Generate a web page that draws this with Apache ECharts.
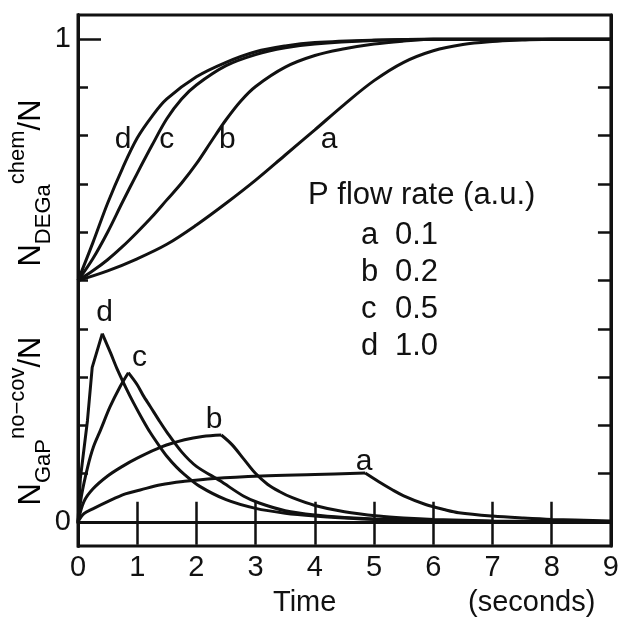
<!DOCTYPE html>
<html>
<head>
<meta charset="utf-8">
<title>P flow rate</title>
<script src="https://cdn.jsdelivr.net/npm/echarts@6/dist/echarts.min.js"></script>
<style>
  html, body { margin: 0; padding: 0; background: #fff; }
  #chart { width: 622px; height: 627px; }
</style>
</head>
<body>
<div id="chart"></div>
<script>
// time axis (seconds)
var xTicks = [0, 1, 2, 3, 4, 5, 6, 7, 8, 9];
// y scale: 0..10 units, 10 = "1"
var yMinorTicks = [1, 2, 3, 4, 5, 6, 7, 8, 9];
var yLabelTicks = [0, 10];
var yLabelText = ['0', '1'];

// upper curves N_DEGa^chem / N
var upperA = [[0,5.0],[0.5,5.2],[1.0,5.45],[1.5,5.75],[2.0,6.15],[2.5,6.6],[3.0,7.08],[3.5,7.6],[4.0,8.12],[4.5,8.65],[5.0,9.14],[5.5,9.52],[6.0,9.76],[6.5,9.89],[7.0,9.95],[7.5,9.98],[8,10],[9,10]];
var upperB = [[0,5.0],[0.25,5.2],[0.5,5.43],[0.75,5.7],[1.0,6.0],[1.25,6.32],[1.5,6.67],[1.75,7.02],[2.0,7.42],[2.25,7.88],[2.5,8.33],[2.75,8.72],[3.0,9.02],[3.5,9.42],[4.0,9.66],[4.5,9.8],[5.0,9.9],[5.5,9.96],[6,10],[9,10]];
var upperC = [[0,5.0],[0.25,5.45],[0.5,6.0],[0.75,6.62],[1.0,7.22],[1.25,7.8],[1.5,8.35],[1.75,8.76],[2.0,9.05],[2.5,9.45],[3.0,9.68],[3.5,9.82],[4.0,9.9],[5,9.97],[6,10],[9,10]];
var upperD = [[0,5.0],[0.25,5.78],[0.5,6.6],[0.75,7.32],[1.0,7.95],[1.25,8.4],[1.5,8.76],[2.0,9.22],[2.5,9.52],[3.0,9.74],[3.5,9.86],[4.0,9.93],[5,9.98],[6,10],[9,10]];

// lower curves N_GaP^no-cov / N (rise while P flows, decay after)
var lowerARise = [[0,0],[0.1,0.17],[0.25,0.27],[0.5,0.42],[0.8,0.58],[1.05,0.66],[1.4,0.77],[1.8,0.84],[2.3,0.9],[3.1,0.95],[4.0,0.98],[4.85,1.01]];
var lowerAFall = [[4.85,1.01],[5.08,0.83],[5.3,0.67],[5.5,0.54],[5.87,0.36],[6.2,0.25],[6.43,0.19],[7.0,0.12],[7.5,0.08],[8,0.05],[9,0.02]];
var lowerBRise = [[0,0],[0.1,0.42],[0.25,0.68],[0.5,0.95],[0.75,1.15],[1.0,1.32],[1.4,1.55],[1.8,1.7],[2.1,1.77],[2.42,1.8]];
var lowerBFall = [[2.42,1.8],[2.6,1.6],[2.8,1.3],[3.0,1.0],[3.2,0.78],[3.4,0.63],[3.62,0.5],[4.0,0.34],[4.5,0.21],[5.08,0.12],[5.5,0.08],[6,0.05],[7,0.02],[8,0.01],[9,0]];
var lowerCRise = [[0,0],[0.06,0.55],[0.16,1.12],[0.26,1.55],[0.38,1.9],[0.54,2.38],[0.71,2.8],[0.85,3.09]];
var lowerCFall = [[0.85,3.09],[1.0,2.84],[1.1,2.62],[1.22,2.39],[1.38,2.08],[1.5,1.86],[1.75,1.45],[2.0,1.15],[2.4,0.85],[2.8,0.53],[3.06,0.39],[3.5,0.23],[4.0,0.14],[4.5,0.09],[5,0.06],[6,0.03],[7,0.01],[9,0]];
var lowerDRise = [[0,0],[0.04,0.9],[0.16,2.1],[0.24,3.2],[0.41,3.9]];
var lowerDFall = [[0.41,3.9],[0.55,3.5],[0.66,3.17],[0.82,2.75],[0.94,2.46],[1.1,2.1],[1.22,1.85],[1.38,1.56],[1.5,1.36],[1.66,1.14],[1.8,0.98],[2.05,0.74],[2.5,0.46],[3.0,0.28],[3.5,0.18],[4.0,0.12],[4.5,0.08],[5,0.05],[6,0.02],[7,0.01],[9,0]];

// curve letters
var curveNames = ['d', 'c', 'b', 'a'];
var upperLabelPos = [[0.76,7.91],[1.5,7.91],[2.52,7.91],[4.24,7.91]];
var lowerLabelPos = [[0.45,4.33],[1.04,3.4],[2.3,2.11],[4.83,1.24]];

// legend
var legendTitle = 'P flow rate (a.u.)';
var flowRates = ['0.1', '0.2', '0.5', '1.0'];
var legendKeys = ['a', 'b', 'c', 'd'];

var FONT = 'Liberation Sans, Arial, Helvetica, sans-serif';
var INK = '#111';

var chart = echarts.init(document.getElementById('chart'));

function curve(data, smooth) {
    return {
        type: 'line',
        data: data,
        showSymbol: false,
        smooth: smooth,
        lineStyle: { color: INK, width: 3 },
        xAxisIndex: 0,
        yAxisIndex: 0,
        silent: true,
        z: 3
    };
}

function letters(pos) {
    return {
        type: 'scatter',
        symbolSize: 0,
        silent: true,
        itemStyle: { opacity: 1, color: INK },
        data: pos.map(function (p, i) { return { value: p, name: curveNames[i] }; }),
        label: {
            show: true,
            position: 'inside',
            formatter: '{b}',
            fontSize: 30,
            fontFamily: FONT,
            color: INK
        }
    };
}

function yAxisBase(pos, ticks, len, labels) {
    return {
        type: 'value',
        position: pos,
        min: -0.5,
        max: 10.5,
        splitLine: { show: false },
        axisLine: { show: true, lineStyle: { color: INK, width: 3 } },
        axisTick: {
            show: true, inside: true, length: len, customValues: ticks,
            lineStyle: { color: INK, width: 2.5 }
        },
        axisLabel: labels ? {
            show: true, customValues: ticks, margin: 7,
            fontSize: 29, fontFamily: FONT, color: INK,
            formatter: function (v) { return yLabelText[yLabelTicks.indexOf(Math.round(v))]; }
        } : { show: false }
    };
}

var legendItems = [{
    type: 'text', left: 308, top: 180,
    style: { text: legendTitle, fontSize: 31, fontFamily: FONT, fill: INK }
}];
legendKeys.forEach(function (k, i) {
    legendItems.push({
        type: 'text', left: 361, top: 220 + i * 37,
        style: { text: k, fontSize: 31, fontFamily: FONT, fill: INK }
    });
    legendItems.push({
        type: 'text', left: 395, top: 220 + i * 37,
        style: { text: flowRates[i], fontSize: 31, fontFamily: FONT, fill: INK }
    });
});

var richY = {
    n: { fontSize: 31, fontFamily: FONT, color: INK, lineHeight: 48, verticalAlign: 'middle' },
    sub: { fontSize: 22, fontFamily: FONT, color: INK, lineHeight: 22, verticalAlign: 'bottom' },
    sup: { fontSize: 22, fontFamily: FONT, color: INK, lineHeight: 22, verticalAlign: 'top' }
};

var option = {
    backgroundColor: '#fff',
    animation: false,
    grid: {
        left: 78, right: 9, top: 15, bottom: 81,
        show: true, borderColor: INK, borderWidth: 3, backgroundColor: 'transparent'
    },
    xAxis: [{
        type: 'value', position: 'bottom', min: 0, max: 9, interval: 1,
        splitLine: { show: false },
        axisLine: { show: true, lineStyle: { color: INK, width: 3 } },
        axisTick: { show: true, inside: true, length: 20, lineStyle: { color: INK, width: 2.5 } },
        axisLabel: { show: true, margin: 7, fontSize: 29, fontFamily: FONT, color: INK }
    }, {
        type: 'value', position: 'top', min: 0, max: 9, interval: 1,
        splitLine: { show: false },
        axisLine: { show: true, lineStyle: { color: INK, width: 3 } },
        axisTick: { show: true, inside: true, length: 23, lineStyle: { color: INK, width: 2.5 } },
        axisLabel: { show: false }
    }],
    yAxis: [
        yAxisBase('left', yMinorTicks, 10, false),
        yAxisBase('left', [10], 23, false),
        yAxisBase('left', [0], 31, false),
        yAxisBase('right', yMinorTicks, 13, false),
        yAxisBase('left', yLabelTicks, 0, true)
    ],
    graphic: legendItems.concat([
        {
            type: 'text', x: 31, y: 183, rotation: Math.PI / 2,
            style: {
                text: '{n|N}{sub|DEGa}{sup|chem}{n|/N}', rich: richY,
                align: 'center', verticalAlign: 'middle'
            }
        },
        {
            type: 'text', x: 31, y: 421, rotation: Math.PI / 2,
            style: {
                text: '{n|N}{sub|GaP}{sup|no\u2212cov}{n|/N}', rich: richY,
                align: 'center', verticalAlign: 'middle'
            }
        },
        {
            type: 'text', left: 273, top: 588,
            style: { text: 'Time', fontSize: 29, fontFamily: FONT, fill: INK }
        },
        {
            type: 'text', left: 468, top: 588,
            style: { text: '(seconds)', fontSize: 29, fontFamily: FONT, fill: INK }
        }
    ]),
    series: [
        curve(upperA, 0.35), curve(upperB, 0.35), curve(upperC, 0.35), curve(upperD, 0.35),
        curve(lowerARise, 0.35), curve(lowerAFall, 0.35),
        curve(lowerBRise, 0.35), curve(lowerBFall, 0.35),
        curve(lowerCRise, 0.3), curve(lowerCFall, 0.3),
        curve(lowerDRise, false), curve(lowerDFall, 0.3),
        letters(upperLabelPos),
        letters(lowerLabelPos)
    ]
};

chart.setOption(option);
</script>
</body>
</html>
